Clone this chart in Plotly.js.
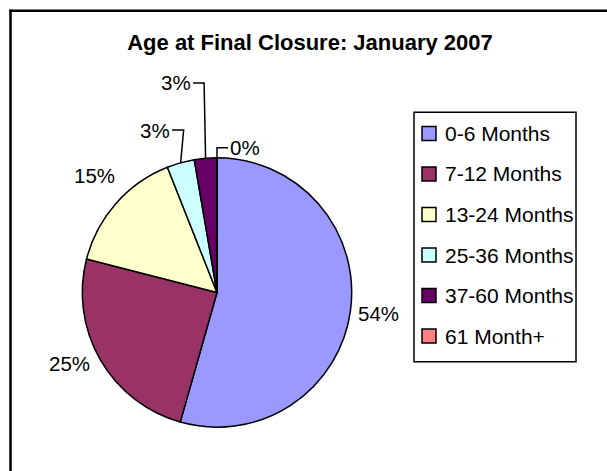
<!DOCTYPE html>
<html><head><meta charset="utf-8">
<script src="https://cdn.plot.ly/plotly-3.0.1.min.js"></script>
<style>html,body{margin:0;padding:0;background:#fff}#chart{width:607px;height:471px}</style>
</head><body><div id="chart"></div>
<script>
const categories = ["0-6 Months","7-12 Months","13-24 Months","25-36 Months","37-60 Months","61 Month+"];
const values = [54.4, 24.6, 15.0, 3.3, 2.7, 0];
const colors = ["#9999FF","#993366","#FFFFCC","#CCFFFF","#660066","#FF8080"];
const chartTitle = "Age at Final Closure: January 2007";

const W = 607, H = 471;
const FONT = "Liberation Sans, Arial, sans-serif";
const pieGeo = {cx: 217, cy: 292.5, r: 134.7};
const px = x => x / W, py = y => 1 - y / H;

// label placement relative to each slice's outer-edge midpoint (pixels)
const labelOffsets = [
  {dx: 27.6, dy: 2},
  {dx: -31, dy: 3.5},
  {dx: -21, dy: -27.5},
  {dx: -25.6, dy: -32.8, leader: {side: 'right', elbowDx: 3}},
  {dx: -29.5, dy: -75.3, leader: {side: 'right', elbowDx: -1.5}},
  {dx: 28, dy: -10, leader: {side: 'left', elbowDx: 0}}
];

const total = values.reduce((a, b) => a + b, 0);
const annotations = [];
const shapes = [];
let cum = 0;
values.forEach((v, i) => {
  const th = (cum + v / 2) / total * 2 * Math.PI;
  cum += v;
  const ex = pieGeo.cx + pieGeo.r * Math.sin(th);
  const ey = pieGeo.cy - pieGeo.r * Math.cos(th);
  const o = labelOffsets[i];
  const lx = ex + o.dx, ly = ey + o.dy;
  const txt = Math.round(v / total * 100) + "%";
  annotations.push({text: txt, x: px(lx), y: py(ly), xref: 'paper', yref: 'paper',
    xanchor: 'center', yanchor: 'middle', showarrow: false,
    font: {family: FONT, size: 20.5, color: '#000'}});
  if (o.leader) {
    const half = txt.length * 7.5 + 2;
    const sx = o.leader.side === 'right' ? lx + half : lx - half;
    const elx = ex + o.leader.elbowDx;
    shapes.push({type: 'path', xref: 'paper', yref: 'paper',
      path: `M ${px(sx)} ${py(ly)} L ${px(elx)} ${py(ly)} L ${px(ex)} ${py(ey)}`,
      line: {color: '#000', width: 1.5}});
  }
});

// legend (box, swatches, labels)
const leg = {x0: 414, y0: 112.3, x1: 576, y1: 361.7, sw: 14, swX: 422, textX: 443, firstY: 133.5, step: 40.5};
shapes.push({type: 'rect', xref: 'paper', yref: 'paper',
  x0: px(leg.x0), x1: px(leg.x1), y0: py(leg.y1), y1: py(leg.y0),
  line: {color: '#000', width: 1.5}, fillcolor: 'rgba(0,0,0,0)'});
categories.forEach((c, i) => {
  const yc = leg.firstY + leg.step * i;
  shapes.push({type: 'rect', xref: 'paper', yref: 'paper',
    x0: px(leg.swX), x1: px(leg.swX + leg.sw), y0: py(yc + leg.sw / 2), y1: py(yc - leg.sw / 2),
    line: {color: '#000', width: 1.5}, fillcolor: colors[i]});
  annotations.push({text: c, x: px(leg.textX), y: py(yc), xref: 'paper', yref: 'paper',
    xanchor: 'left', yanchor: 'middle', showarrow: false,
    font: {family: FONT, size: 21, color: '#000'}});
});

// outer frame (top and left edges visible)
shapes.push({type: 'line', xref: 'paper', yref: 'paper', x0: px(9.5), x1: 1.01, y0: py(10.8), y1: py(10.8), line: {color: '#000', width: 2.5}});
shapes.push({type: 'line', xref: 'paper', yref: 'paper', x0: px(10.5), x1: px(10.5), y0: py(9.5), y1: -0.01, line: {color: '#000', width: 2.5}});

const trace = {
  type: 'pie', labels: categories, values: values, sort: false,
  direction: 'clockwise', rotation: 0,
  marker: {colors: colors, line: {color: '#000', width: 1.5}},
  textinfo: 'none', hoverinfo: 'none', showlegend: false,
  domain: {x: [px(pieGeo.cx - pieGeo.r), px(pieGeo.cx + pieGeo.r)],
           y: [py(pieGeo.cy + pieGeo.r), py(pieGeo.cy - pieGeo.r)]}
};

const layout = {
  width: W, height: H, margin: {l: 0, r: 0, t: 0, b: 0},
  paper_bgcolor: '#fff', plot_bgcolor: '#fff', showlegend: false,
  title: {text: '<b>' + chartTitle + '</b>', x: px(310), xanchor: 'center', xref: 'paper',
    y: py(42), yanchor: 'middle', yref: 'paper', font: {family: FONT, size: 22, color: '#000'}},
  annotations: annotations, shapes: shapes
};
Plotly.newPlot('chart', [trace], layout, {displayModeBar: false, staticPlot: true});
</script></body></html>
